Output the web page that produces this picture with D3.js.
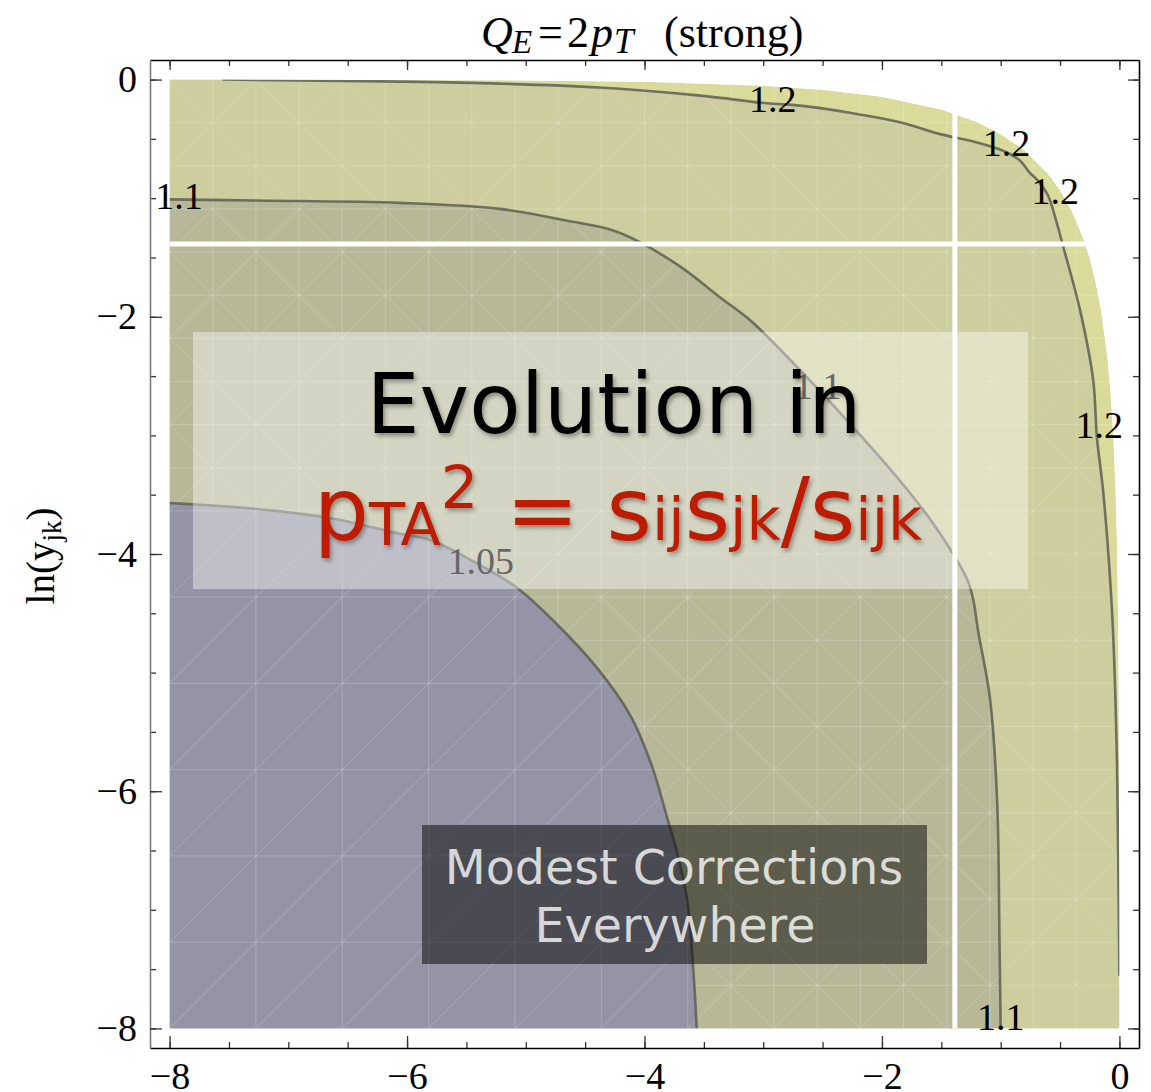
<!DOCTYPE html>
<html>
<head>
<meta charset="utf-8">
<script src="https://cdn.jsdelivr.net/npm/d3@7"></script>
<style>
  html, body { margin: 0; padding: 0; background: #ffffff; }
  svg { display: block; }
</style>
</head>
<body>
<script>
// Contour levels of the correction ratio, lowest to highest
const levels = [1.05, 1.1, 1.2];
const levelLabels = ["1.05", "1.1", "1.2"];

// Contour lines, as [ln(y_ij), ln(y_jk)] points
const contour105 = [[-8.00,-3.57],[-7.27,-3.62],[-6.63,-3.70],[-6.06,-3.83],[-5.81,-3.88],[-5.50,-4.03],
  [-5.08,-4.28],[-4.74,-4.59],[-4.40,-4.96],[-4.12,-5.36],[-3.94,-5.78],[-3.81,-6.22],[-3.73,-6.50],
  [-3.64,-6.92],[-3.59,-7.49],[-3.56,-8.00]];
const contour110 = [[-8.00,-1.01],[-7.27,-1.02],[-6.06,-1.04],[-5.22,-1.09],[-4.65,-1.19],[-4.27,-1.27],
  [-4.04,-1.37],[-3.68,-1.59],[-3.36,-1.84],[-3.11,-2.03],[-2.69,-2.45],[-2.27,-2.90],[-1.85,-3.38],
  [-1.57,-3.74],[-1.40,-4.00],[-1.28,-4.22],[-1.23,-4.39],[-1.19,-4.65],[-1.09,-5.22],[-1.03,-6.08],
  [-1.01,-7.28],[-1.00,-8.00]];
const contour120 = [[-7.555,0],[-6.06,-0.017],[-5.22,-0.034],[-4.38,-0.067],[-3.53,-0.135],[-2.97,-0.20],
  [-2.69,-0.22],[-2.27,-0.28],[-1.85,-0.36],[-1.51,-0.46],[-1.20,-0.53],[-0.98,-0.60],[-0.84,-0.68],
  [-0.76,-0.78],[-0.68,-0.86],[-0.60,-0.98],[-0.53,-1.20],[-0.47,-1.42],[-0.33,-1.95],[-0.22,-2.54],
  [-0.19,-3.01],[-0.135,-3.49],[-0.06,-4.52],[-0.025,-5.55],[-0.01,-6.58],[0,-7.555]];

// Edge of the physical region (upper-right limit of the plotted domain)
const edgeX = [-8, -5, -4, -3, -2.5, -2, -1.5, -1.2, -1, -0.8, -0.6, -0.5, -0.4, -0.3, -0.25, -0.2,
  -0.15, -0.1, -0.07, -0.05, -0.03, -0.02, -0.01, -0.005, -0.002, -0.001, -0.0003];
const edgeY = [0, -0.0068, -0.0185, -0.0511, -0.0857, -0.1454, -0.2525, -0.3584, -0.4587, -0.5966,
  -0.7958, -0.9328, -1.1096, -1.3502, -1.5087, -1.7078, -1.9712, -2.3522, -2.694, -3.0206, -3.5217,
  -3.922, -4.610, -5.301, -6.2156, -6.9083, -8.0];

// Cuts in the domain (white gaps)
const cutX = [-1.386];
const cutY = [-1.386];

// Axis ticks
const majorTicks = [-8, -6, -4, -2, 0];
const minorTicks = [-8, -7.5, -7, -6.5, -6, -5.5, -5, -4.5, -4, -3.5, -3, -2.5, -2, -1.5, -1, -0.5, 0];

// Contour label placements: [text, x, y]
const contourLabels = [
  ["1.2", -2.92, -0.16], ["1.2", -0.95, -0.53], ["1.2", -0.54, -0.94], ["1.2", -0.17, -2.91],
  ["1.1", -7.92, -0.98], ["1.1", -1.00, -7.90], ["1.1", -2.54, -2.58], ["1.05", -5.38, -4.06]
];

const W = 1151, H = 1092;
const x = d3.scaleLinear().domain([-8.165, 0.165]).range([150, 1139]);
const y = d3.scaleLinear().domain([-8.165, 0.165]).range([1048, 60]);

const svg = d3.select("body").append("svg").attr("width", W).attr("height", H);
const defs = svg.append("defs");

const shadow = defs.append("filter").attr("id", "shadow")
  .attr("x", "-10%").attr("y", "-20%").attr("width", "130%").attr("height", "160%");
shadow.append("feDropShadow").attr("dx", 2).attr("dy", 3).attr("stdDeviation", 2)
  .attr("flood-color", "#000").attr("flood-opacity", 0.35);

const line = d3.line().x(d => x(d[0])).y(d => y(d[1])).curve(d3.curveCatmullRom.alpha(0.5));
const edgePts = edgeX.map((v, i) => [v, edgeY[i]]);
const domainPts = [[-8, -8]].concat(edgePts);
const domainPath = line.curve(d3.curveLinear)(domainPts) + "Z";
line.curve(d3.curveCatmullRom.alpha(0.5));

const closedPath = (pts, extra) => line(pts) + extra.map(p => "L" + x(p[0]) + "," + y(p[1])).join("") + "Z";
const region120 = closedPath(contour120, [[0, -8], [-8, -8], [-8, 0]]);
const region110 = closedPath(contour110, [[-8, -8]]);
const region105 = closedPath(contour105, [[-8, -8]]);

defs.append("clipPath").attr("id", "domainClip").append("path").attr("d", domainPath);
defs.append("clipPath").attr("id", "lowClip").append("path").attr("d", region105);
defs.append("clipPath").attr("id", "highClip").append("path")
  .attr("d", domainPath + region105).attr("clip-rule", "evenodd");

const plot = svg.append("g").attr("clip-path", "url(#domainClip)");

// Filled bands, from the highest band down
const bandColors = ["#dadb9b", "#cdcd9d", "#b8b899", "#9594a6"];
plot.append("path").attr("d", domainPath).attr("fill", bandColors[0]);
plot.append("path").attr("d", region120).attr("fill", bandColors[1]);
plot.append("path").attr("d", region110).attr("fill", bandColors[2]);
plot.append("path").attr("d", region105).attr("fill", bandColors[3]);

// Triangulation mesh texture
function meshSegments(step, both) {
  const segs = [];
  const n = Math.round(8 / step);
  for (let k = 0; k <= n; k++) {
    const v = -8 + k * step;
    segs.push([[v, -8], [v, 0.2]]);
    segs.push([[-8, v], [0.2, v]]);
  }
  const s = 8 / 11;
  for (let m = -12; m <= 12; m++) {
    const c = m * s;
    segs.push([[-8, -8 - c], [0, -c]]);
  }
  if (both) {
    for (let m = 0; m <= 23; m++) {
      const c = -16 + m * s;
      segs.push([[-8, c + 8], [0, c]]);
    }
  }
  return segs;
}
const meshLow = plot.append("g").attr("clip-path", "url(#lowClip)");
meshLow.selectAll("line").data(meshSegments(8 / 11, false)).join("line")
  .attr("x1", d => x(d[0][0])).attr("y1", d => y(d[0][1]))
  .attr("x2", d => x(d[1][0])).attr("y2", d => y(d[1][1]))
  .attr("stroke", "#ffffff").attr("stroke-opacity", 0.2).attr("stroke-width", 1);
const meshHigh = plot.append("g").attr("clip-path", "url(#highClip)");
meshHigh.selectAll("line").data(meshSegments(8 / 22, true)).join("line")
  .attr("x1", d => x(d[0][0])).attr("y1", d => y(d[0][1]))
  .attr("x2", d => x(d[1][0])).attr("y2", d => y(d[1][1]))
  .attr("stroke", "#ffffff").attr("stroke-opacity", 0.2).attr("stroke-width", 1);

// Contour lines
[contour105, contour110, contour120].forEach(c => {
  plot.append("path").attr("d", line(c)).attr("fill", "none")
    .attr("stroke", "#5e5e55").attr("stroke-opacity", 0.85).attr("stroke-width", 2.6);
});

// White cuts through the domain
cutX.forEach(v => plot.append("line").attr("x1", x(v)).attr("x2", x(v)).attr("y1", y(0.2)).attr("y2", y(-8))
  .attr("stroke", "#ffffff").attr("stroke-width", 5));
cutY.forEach(v => plot.append("line").attr("y1", y(v)).attr("y2", y(v)).attr("x1", x(-8)).attr("x2", x(0.2))
  .attr("stroke", "#ffffff").attr("stroke-width", 5));

// Contour labels
svg.append("g").selectAll("text").data(contourLabels).join("text")
  .attr("x", d => x(d[1])).attr("y", d => y(d[2])).attr("dy", "0.35em")
  .attr("text-anchor", "middle")
  .attr("font-family", "'Liberation Serif', 'Times New Roman', serif").attr("font-size", 38)
  .attr("fill", "#000").text(d => d[0]);

// Frame and ticks
const fmt = d => d === 0 ? "0" : "\u2212" + Math.abs(d);
function styleAxis(g, color) {
  g.select(".domain").attr("stroke", color).attr("stroke-width", 1.6);
  g.selectAll(".tick line").attr("stroke", "#333").attr("stroke-width", 1.3);
  g.selectAll("text").attr("font-family", "'Liberation Serif', 'Times New Roman', serif")
    .attr("font-size", 38).attr("fill", "#000");
}
const axes = [
  { gen: d3.axisBottom(x), t: "translate(0,1048)", labels: true, color: "#000", len: 12, pad: 14 },
  { gen: d3.axisTop(x), t: "translate(0,60)", labels: false, color: "#000", len: 10, pad: 13 },
  { gen: d3.axisLeft(y), t: "translate(150,0)", labels: true, color: "#7a7a7a", len: 12, pad: 13 },
  { gen: d3.axisRight(y), t: "translate(1139,0)", labels: false, color: "#000", len: 11, pad: 13 }
];
axes.forEach(a => {
  const minor = svg.append("g").attr("transform", a.t)
    .call(a.gen.tickValues(minorTicks).tickSize(-6).tickSizeOuter(0).tickFormat(""));
  minor.select(".domain").remove();
  styleAxis(minor, a.color);
  const major = svg.append("g").attr("transform", a.t)
    .call(a.gen.tickValues(majorTicks).tickSizeInner(-a.len).tickSizeOuter(0)
      .tickPadding(a.pad).tickFormat(a.labels ? fmt : ""));
  styleAxis(major, a.color);
});

// Title
const title = svg.append("text").attr("y", 47)
  .attr("font-family", "'Liberation Serif', 'Times New Roman', serif").attr("font-size", 44).attr("fill", "#000");
title.append("tspan").attr("x", 481).attr("font-style", "italic").text("Q");
title.append("tspan").attr("x", 512).attr("font-style", "italic").attr("font-size", 33).attr("dy", 6).text("E");
title.append("tspan").attr("x", 538).attr("dy", -6).text("=");
title.append("tspan").attr("x", 567).text("2");
title.append("tspan").attr("x", 591).attr("font-style", "italic").text("p");
title.append("tspan").attr("x", 614).attr("font-style", "italic").attr("font-size", 35).attr("dy", 6).text("T");
title.append("tspan").attr("x", 664).attr("dy", -6).text("(strong)");

// Y axis title
const ylab = svg.append("text").attr("transform", "translate(54,556) rotate(-90)").attr("text-anchor", "middle")
  .attr("font-family", "'Liberation Serif', 'Times New Roman', serif").attr("font-size", 39).attr("fill", "#000");
ylab.append("tspan").text("ln(y");
ylab.append("tspan").attr("font-size", 27).attr("dy", 7).text("jk");
ylab.append("tspan").attr("dy", -7).text(")");

// Light annotation panel
svg.append("rect").attr("x", 193).attr("y", 332).attr("width", 835).attr("height", 257)
  .attr("fill", "#ffffff").attr("fill-opacity", 0.4);
svg.append("text").attr("x", 614).attr("y", 433).attr("text-anchor", "middle")
  .attr("font-family", "'DejaVu Sans', Verdana, sans-serif").attr("font-size", 84).attr("fill", "#000")
  .attr("filter", "url(#shadow)").text("Evolution in");
const big = 87, small = 59;
const formula = svg.append("text").attr("x", 618).attr("y", 540).attr("text-anchor", "middle")
  .attr("font-family", "'DejaVu Sans', Verdana, sans-serif").attr("font-size", big).attr("fill", "#bd1a02")
  .attr("filter", "url(#shadow)");
formula.append("tspan").attr("font-size", big).text("p");
formula.append("tspan").attr("font-size", small).attr("dy", 5).text("TA");
formula.append("tspan").attr("font-size", small).attr("dy", -37).text("2");
formula.append("tspan").attr("font-size", big).attr("dy", 32).text(" = s");
formula.append("tspan").attr("font-size", small).text("ij");
formula.append("tspan").attr("font-size", big).text("s");
formula.append("tspan").attr("font-size", small).text("jk");
formula.append("tspan").attr("font-size", big).text("/s");
formula.append("tspan").attr("font-size", small).text("ijk");

// Dark annotation panel
svg.append("rect").attr("x", 422).attr("y", 825).attr("width", 505).attr("height", 139)
  .attr("fill", "#000000").attr("fill-opacity", 0.5);
const note = svg.append("text").attr("text-anchor", "middle")
  .attr("font-family", "'DejaVu Sans', Verdana, sans-serif").attr("font-size", 47.5)
  .attr("fill", "#ffffff").attr("fill-opacity", 0.78);
note.append("tspan").attr("x", 674).attr("y", 884).text("Modest Corrections");
note.append("tspan").attr("x", 675).attr("y", 942).text("Everywhere");
</script>
</body>
</html>
